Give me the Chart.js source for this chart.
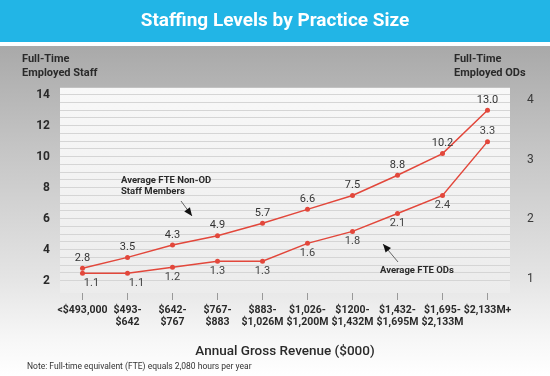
<!DOCTYPE html>
<html>
<head>
<meta charset="utf-8">
<script src="https://cdn.jsdelivr.net/npm/chart.js@4.4.1/dist/chart.umd.min.js"></script>
<style>
  html, body { margin: 0; padding: 0; background: #fff; }
  #wrap { width: 550px; height: 376px; }
</style>
</head>
<body>
<div id="wrap"><canvas id="staffingChart" width="550" height="376"></canvas></div>
<script>
// revenue brackets ($000)
const categories = [
  ['<$493,000'],
  ['$493-', '$642'],
  ['$642-', '$767'],
  ['$767-', '$883'],
  ['$883-', '$1,026M'],
  ['$1,026-', '$1,200M'],
  ['$1200-', '$1,432M'],
  ['$1,432-', '$1,695M'],
  ['$1,695-', '$2,133M'],
  ['$2,133M+']
];
const staffValues = [2.8, 3.5, 4.3, 4.9, 5.7, 6.6, 7.5, 8.8, 10.2, 13.0];
const odValues = [1.1, 1.1, 1.2, 1.3, 1.3, 1.6, 1.8, 2.1, 2.4, 3.3];
const staffTicks = [2, 4, 6, 8, 10, 12, 14];
const odTicks = [1, 2, 3, 4];

const FONT = "Roboto, 'Open Sans', sans-serif";
const RED = '#e2473b';

// grey panel, blue banner and the light plot box
const backdrop = {
  id: 'backdrop',
  beforeDraw(chart) {
    const { ctx, width, height, chartArea: a } = chart;
    ctx.save();
    let g = ctx.createLinearGradient(0, 46, 0, height);
    g.addColorStop(0, '#a9a9a9');
    g.addColorStop(0.3, '#c4c4c4');
    g.addColorStop(0.7, '#e4e4e4');
    g.addColorStop(0.88, '#f6f6f6');
    g.addColorStop(1, '#ffffff');
    ctx.fillStyle = g;
    ctx.fillRect(0, 46, width, height - 46);
    ctx.fillStyle = '#ffffff';
    ctx.fillRect(0, 42, width, 4);
    ctx.fillStyle = '#22b5e6';
    ctx.fillRect(0, 0, width, 42);
    g = ctx.createLinearGradient(0, a.top, 0, a.bottom);
    g.addColorStop(0, '#f8f8f8');
    g.addColorStop(1, '#ececec');
    ctx.fillStyle = g;
    ctx.fillRect(a.left, a.top, a.right - a.left, a.bottom - a.top);
    ctx.restore();
  }
};

// value labels next to each point
const pointLabels = {
  id: 'pointLabels',
  afterDatasetsDraw(chart) {
    const { ctx, chartArea: a } = chart;
    ctx.save();
    ctx.font = '11px ' + FONT;
    ctx.textAlign = 'center';
    ctx.textBaseline = 'middle';
    ctx.fillStyle = '#333';
    chart.getDatasetMeta(0).data.forEach((pt, i) => {
      ctx.fillText(staffValues[i].toFixed(1), pt.x, pt.y - 10);
    });
    ctx.fillStyle = '#444';
    chart.getDatasetMeta(1).data.forEach((pt, i) => {
      const last = i === odValues.length - 1;
      let x = pt.x;
      const y = last ? pt.y - 10 : pt.y + 10;
      if (y > a.bottom - 10) x += 9;
      ctx.fillText(odValues[i].toFixed(1), x, y);
    });
    ctx.restore();
  }
};

function arrow(ctx, x1, y1, x2, y2) {
  const ang = Math.atan2(y2 - y1, x2 - x1);
  ctx.strokeStyle = '#666';
  ctx.lineWidth = 1;
  ctx.beginPath();
  ctx.moveTo(x1, y1);
  ctx.lineTo(x2, y2);
  ctx.stroke();
  ctx.fillStyle = '#111';
  ctx.beginPath();
  ctx.moveTo(x2, y2);
  ctx.lineTo(x2 - 9 * Math.cos(ang - 0.4), y2 - 9 * Math.sin(ang - 0.4));
  ctx.lineTo(x2 - 9 * Math.cos(ang + 0.4), y2 - 9 * Math.sin(ang + 0.4));
  ctx.closePath();
  ctx.fill();
}

// axis captions, series call-outs and footnote
const notes = {
  id: 'notes',
  afterDraw(chart) {
    const { ctx } = chart;
    ctx.save();
    ctx.fillStyle = '#2a2a2a';
    ctx.textBaseline = 'middle';
    ctx.textAlign = 'left';
    ctx.font = 'bold 11px ' + FONT;
    ctx.fillText('Full-Time', 22, 59);
    ctx.fillText('Employed Staff', 22, 73);
    ctx.fillText('Full-Time', 454, 59);
    ctx.fillText('Employed ODs', 454, 73);

    ctx.font = 'bold 9.5px ' + FONT;
    ctx.fillText('Average FTE Non-OD', 121, 181);
    ctx.fillText('Staff Members', 121, 192);
    ctx.fillText('Average FTE ODs', 380, 271);
    arrow(ctx, 181, 201, 192, 216);
    arrow(ctx, 398, 262, 383, 244);

    ctx.font = '8.5px ' + FONT;
    ctx.fillStyle = '#333';
    ctx.fillText('Note: Full-time equivalent (FTE) equals 2,080 hours per year', 27, 367);
    ctx.restore();
  }
};

new Chart(document.getElementById('staffingChart'), {
  type: 'line',
  data: {
    labels: categories,
    datasets: [{
      label: 'Average FTE Non-OD Staff Members',
      data: staffValues,
      yAxisID: 'y',
      borderColor: RED,
      backgroundColor: RED,
      borderWidth: 1.5,
      pointRadius: 2.5,
      pointBorderWidth: 0,
      tension: 0
    }, {
      label: 'Average FTE ODs',
      data: odValues,
      yAxisID: 'y1',
      borderColor: RED,
      backgroundColor: RED,
      borderWidth: 1.5,
      pointRadius: 2.5,
      pointBorderWidth: 0,
      tension: 0
    }]
  },
  options: {
    responsive: false,
    animation: false,
    devicePixelRatio: 1,
    layout: { padding: 0 },
    plugins: {
      legend: { display: false },
      tooltip: { enabled: false },
      title: {
        display: true,
        text: 'Staffing Levels by Practice Size',
        color: '#ffffff',
        font: { family: FONT, size: 19, weight: 'bold' },
        padding: { top: 10, bottom: 55 }
      }
    },
    scales: {
      x: {
        offset: true,
        border: { display: false },
        grid: { drawOnChartArea: false, drawTicks: true, tickLength: 7, color: '#999' },
        ticks: {
          color: '#2a2a2a',
          padding: 4,
          maxRotation: 0,
          autoSkip: false,
          font: { family: FONT, size: 10.5, weight: 'bold', lineHeight: 1.15 }
        },
        title: {
          display: true,
          text: 'Annual Gross Revenue ($000)',
          color: '#2a2a2a',
          font: { family: FONT, size: 13.5, weight: '500' },
          padding: { top: 0, bottom: 16 }
        },
        afterFit: s => { s.height = 83; }
      },
      y: {
        position: 'left',
        min: 1.2,
        max: 14.45,
        border: { display: false },
        grid: { color: '#d5d5d5', drawTicks: false },
        ticks: {
          padding: 10,
          autoSkip: false,
          color: '#2a2a2a',
          font: { family: FONT, size: 12, weight: 'bold' },
          callback: v => staffTicks.includes(v) ? String(v) : ''
        },
        // half-unit grid lines, labels only on the even values
        afterBuildTicks: s => {
          const t = [];
          for (let v = staffTicks[0]; v <= staffTicks[staffTicks.length - 1]; v += 0.5) t.push({ value: v });
          s.ticks = t;
        },
        afterFit: s => { s.width = 60; }
      },
      y1: {
        position: 'right',
        min: 0.77,
        max: 4.2,
        border: { display: false },
        grid: { display: false },
        ticks: {
          padding: 9,
          autoSkip: false,
          color: '#3a3a3a',
          font: { family: FONT, size: 12 }
        },
        afterBuildTicks: s => { s.ticks = odTicks.map(v => ({ value: v })); },
        afterFit: s => { s.width = 40; }
      }
    }
  },
  plugins: [backdrop, pointLabels, notes]
});
</script>
</body>
</html>
